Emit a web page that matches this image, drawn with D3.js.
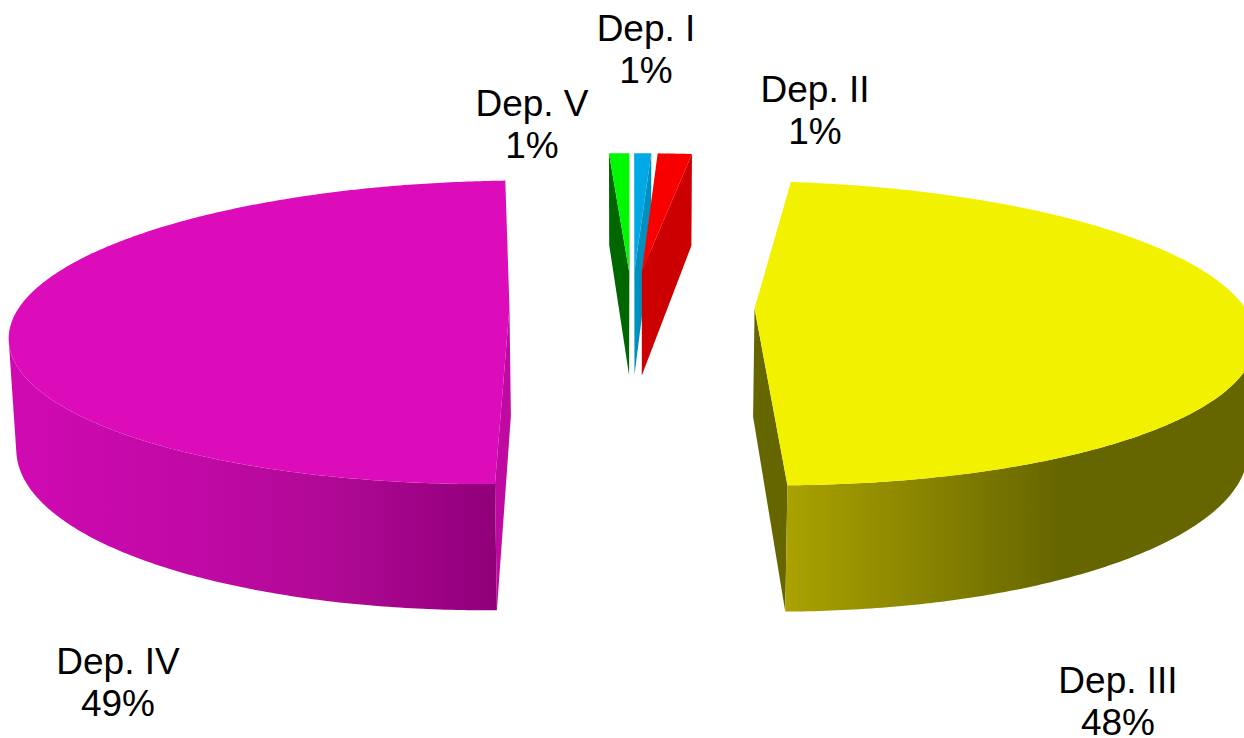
<!DOCTYPE html>
<html><head><meta charset="utf-8">
<script src="https://cdn.jsdelivr.net/npm/d3@7"></script>
<style>html,body{margin:0;padding:0;background:#fff;overflow:hidden}svg{display:block}text{font-family:"Liberation Sans",Arial,sans-serif;fill:#000}</style>
</head><body><svg id="c" width="1244" height="738"></svg>
<script>
const categories=["Dep. I","Dep. II","Dep. III","Dep. IV","Dep. V"];
const shares=[0.67,1.34,47.74,49.45,0.8];
const percentLabels=["1%","1%","48%","49%","1%"];
const labelX=[646,815,1118,118,532];
const labelY=[28,89,680,661,103];
const topColors=["#00a8e6","#f80000","#f2f200","#dc0cba","#00f800"];
const cutColors=["#0090c0","#cc0000","#666600","#bf0aa2","#006600"];
const wallRamps=[["#0090c0"],["#cc0000"],["#aaa200","#666600"],["#cf0ab1","#c009a5","#b00995","#96007f","#8f0078"],["#006600"]];
const wallRampOffsets=[[0],[0],[0,1],[0,0.378,0.657,0.937,1],[0]];
const wallStops=[[0,1],[0,1],[788,1060],[20,497],[0,1]];

const S=0.301,C=Math.sqrt(1-S*S),D=5.9,F=2890,E=0.25,H=0.234;
const sx=d3.scaleLinear().domain([0,1]).range([632,632+F]);
const sy=d3.scaleLinear().domain([0,1]).range([306.5,306.5-F]);
function project(X,Y,Z){const w=D+Y*C-Z*S;return [sx(X/w),sy((Y*S+Z*C)/w)];}
const svg=d3.select("#c"),defs=svg.append("defs");
const arcs=d3.pie().sort(null).startAngle(0).endAngle(2*Math.PI)(shares);
const line=d3.line();
function poly(pts,fill){svg.append("path").attr("d",line(pts)+"Z").attr("fill",fill);}
function drawSlice(i){
  const a=arcs[i],m=(a.startAngle+a.endAngle)/2,ox=E*Math.sin(m),oy=E*Math.cos(m);
  const P=(r,t,z)=>project(ox+r*Math.sin(t),oy+r*Math.cos(t),z);
  const n=Math.max(2,Math.ceil((a.endAngle-a.startAngle)/0.01));
  const ts=d3.range(n+1).map(k=>a.startAngle+(a.endAngle-a.startAngle)*k/n);
  [[a.startAngle,-1],[a.endAngle,1]].forEach(([t,dir])=>{
    const q=[P(0,t,0),P(1,t,0),P(1,t,-H),P(0,t,-H)];
    if(d3.polygonArea(q)*dir<0) poly(q,cutColors[i]);
  });
  const front=ts.filter(t=>{
    const t2=t+0.001;
    const q=[P(1,t,0),P(1,t2,0),P(1,t2,-H),P(1,t,-H)];
    return d3.polygonArea(q)>0;
  });
  if(front.length>1){
    const id="w"+i;
    const g=defs.append("linearGradient").attr("id",id).attr("gradientUnits","userSpaceOnUse")
      .attr("x1",wallStops[i][0]).attr("x2",wallStops[i][1]).attr("y1",0).attr("y2",0);
    wallRamps[i].forEach((c,k)=>g.append("stop").attr("offset",wallRampOffsets[i][k]).attr("stop-color",c));
    poly(front.map(t=>P(1,t,0)).concat(front.slice().reverse().map(t=>P(1,t,-H))),"url(#"+id+")");
  }
  poly([P(0,0,0)].concat(ts.map(t=>P(1,t,0))),topColors[i]);
}
[4,0,1,3,2].forEach(drawSlice);
categories.forEach((c,i)=>{
  const t=svg.append("text").attr("text-anchor","middle").attr("font-size",37);
  t.append("tspan").attr("x",labelX[i]).attr("y",labelY[i]+13).text(c);
  t.append("tspan").attr("x",labelX[i]).attr("y",labelY[i]+55).text(percentLabels[i]);
});
</script></body></html>
